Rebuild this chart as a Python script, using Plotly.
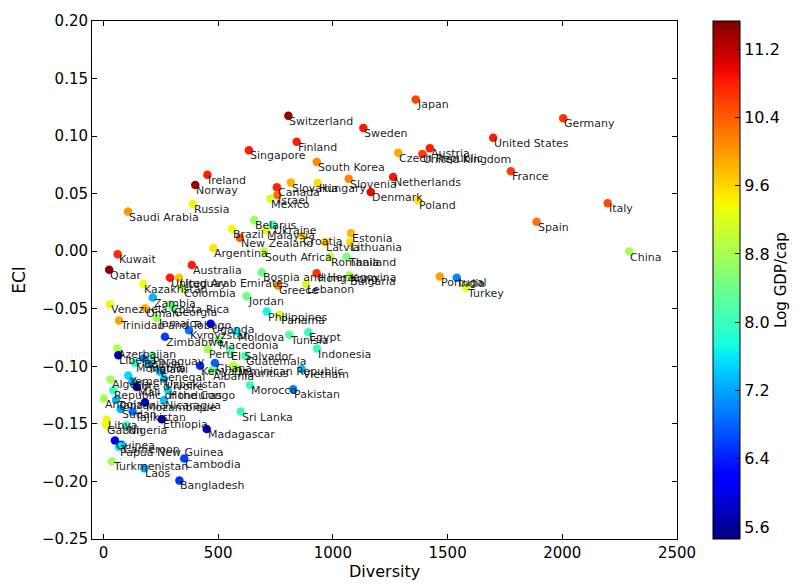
import numpy as np
import plotly.graph_objects as go

countries = [
    "Switzerland", "Finland", "Singapore", "South Korea", "Ireland", "Norway", "Canada", "Slovakia",
    "Hungary", "Israel", "Mexico", "Russia", "Saudi Arabia", "Belarus", "Ukraine", "Brazil",
    "Malaysia", "New Zealand", "Croatia", "Latvia", "Lithuania", "Estonia", "Argentina", "Kuwait",
    "Japan", "Sweden", "United States", "Austria", "Czech Republic", "United Kingdom", "France",
    "Slovenia", "Netherlands", "Denmark", "Poland", "Spain", "Germany", "Italy", "China",
    "Qatar", "Australia", "United Arab Emirates", "Uruguay", "Kazakhstan", "Colombia", "Zambia",
    "Venezuela", "Costa Rica", "Georgia", "Oman", "Trinidad and Tobago", "Jamaica", "Kyrgyzstan",
    "Uganda", "Zimbabwe", "Moldova", "Macedonia", "Jordan", "Bosnia and Herzegovina", "Greece",
    "Philippines", "Azerbaijan", "Peru", "South Africa", "Romania", "Thailand", "Hong Kong",
    "Bulgaria", "Lebanon", "Portugal", "India", "Turkey", "Panama", "Tunisia", "Egypt",
    "Indonesia", "El Salvador", "Guatemala", "Morocco", "Vietnam", "Pakistan", "Sri Lanka",
    "Madagascar", "Liberia", "Mongolia", "Bolivia", "Malawi", "Paraguay", "Senegal", "Uzbekistan",
    "Kenya", "Ghana", "Dominican Republic", "Mauritius", "Albania", "Algeria", "Yemen",
    "Cote d'Ivoire", "Mali", "Republic of the Congo", "Honduras", "Angola", "Tanzania",
    "Nicaragua", "Mozambique", "Sudan", "Tajikistan", "Ethiopia", "Libya", "Gabon", "Nigeria",
    "Guinea", "Cameroon", "Papua New Guinea", "Cambodia", "Turkmenistan", "Laos", "Bangladesh",
]

diversity = [
    806, 842, 634, 930, 453, 400, 756, 817,
    934, 758, 727, 389, 107, 657, 738, 560,
    708, 595, 865, 966, 1075, 1079, 479, 62,
    1361, 1133, 1699, 1423, 1285, 1390, 1776,
    1069, 1263, 1165, 1371, 1888, 2004, 2198, 2292,
    25, 385, 290, 329, 174, 345, 215,
    28, 290, 303, 181, 68, 232, 373,
    467, 268, 581, 501, 624, 690, 761,
    712, 60, 455, 701, 987, 1060, 929,
    1072, 883, 1466, 1540, 1580, 769, 810, 893,
    931, 552, 617, 639, 864, 827, 598,
    450, 65, 137, 174, 200, 212, 246, 264,
    421, 486, 566, 582, 473, 31, 108,
    127, 145, 43, 281, 2, 55,
    264, 181, 75, 127, 254, 14, 11, 101,
    50, 79, 68, 352, 36, 178, 331,
]

eci = [
    0.1177, 0.0951, 0.0878, 0.0775, 0.0664, 0.0575, 0.0556, 0.0596,
    0.0592, 0.0487, 0.0456, 0.0410, 0.0344, 0.0268, 0.0231, 0.0194,
    0.0182, 0.0117, 0.0131, 0.0079, 0.0079, 0.0156, 0.0026, -0.0026,
    0.1319, 0.1071, 0.0985, 0.0895, 0.0855, 0.0844, 0.0695,
    0.0630, 0.0644, 0.0515, 0.0442, 0.0256, 0.1156, 0.0416, -0.0003,
    -0.0160, -0.0120, -0.0231, -0.0231, -0.0282, -0.0319, -0.0402,
    -0.0462, -0.0462, -0.0487, -0.0496, -0.0601, -0.0581, -0.0686,
    -0.0630, -0.0744, -0.0698, -0.0772, -0.0391, -0.0182, -0.0297,
    -0.0524, -0.0846, -0.0852, -0.0003, -0.0049, -0.0049, -0.0191,
    -0.0211, -0.0282, -0.0220, -0.0231, -0.0316, -0.0553, -0.0726, -0.0703,
    -0.0846, -0.0866, -0.0909, -0.1165, -0.1023, -0.1199, -0.1393,
    -0.1544, -0.0903, -0.0972, -0.0932, -0.0980, -0.0906, -0.1045, -0.1108,
    -0.0994, -0.0972, -0.0994, -0.1017, -0.1037, -0.1114, -0.1080,
    -0.1131, -0.1179, -0.1208, -0.1205, -0.1280, -0.1293,
    -0.1293, -0.1314, -0.1370, -0.1393, -0.1459, -0.1464, -0.1507, -0.1513,
    -0.1644, -0.1678, -0.1701, -0.1801, -0.1826, -0.1886, -0.1991,
]

log_gdp_cap = [
    11.4, 10.8, 10.8, 10.1, 10.8, 11.4, 10.75, 9.85,
    9.55, 10.3, 9.15, 9.4, 10.0, 8.7, 8.1, 9.35,
    9.25, 10.45, 9.6, 9.6, 9.55, 9.8, 9.5, 10.7,
    10.55, 10.85, 10.8, 10.8, 9.9, 10.6, 10.6,
    10.15, 10.85, 10.95, 9.5, 10.25, 10.65, 10.5, 8.8,
    11.45, 10.8, 10.8, 9.7, 9.35, 8.9, 7.3,
    9.35, 8.6, 8.3, 9.8, 9.95, 8.7, 6.9,
    6.2, 6.6, 7.6, 8.5, 8.4, 8.4, 10.15,
    7.7, 8.85, 8.8, 9.0, 8.9, 8.5, 10.65,
    8.75, 9.15, 9.95, 7.0, 9.3, 9.15, 8.2, 8.0,
    8.0, 8.2, 8.1, 8.0, 7.4, 7.0, 8.0,
    5.8, 5.8, 7.9, 7.0, 7.4, 8.3, 7.3, 7.4,
    6.5, 6.8, 9.0, 8.9, 8.4, 8.8, 7.5,
    7.3, 5.9, 8.0, 7.5, 8.8, 7.3,
    7.4, 5.9, 7.3, 6.9, 5.8, 9.4, 9.3, 7.9,
    6.1, 7.4, 7.6, 6.6, 8.8, 7.2, 6.5,
]

x_ticks = [0, 500, 1000, 1500, 2000, 2500]
y_ticks = [-0.25, -0.20, -0.15, -0.10, -0.05, 0.00, 0.05, 0.10, 0.15, 0.20]
cbar_ticks = [5.6, 6.4, 7.2, 8.0, 8.8, 9.6, 10.4, 11.2]

# matplotlib "jet" colormap
def jet(t):
    r = np.interp(t, [0, 0.35, 0.66, 0.89, 1], [0, 0, 1, 1, 0.5])
    g = np.interp(t, [0, 0.125, 0.375, 0.64, 0.91, 1], [0, 0, 1, 1, 0, 0])
    b = np.interp(t, [0, 0.11, 0.34, 0.65, 1], [0.5, 1, 1, 0, 0])
    return "rgb(%d,%d,%d)" % (round(r * 255), round(g * 255), round(b * 255))

jet_scale = [[float(t), jet(t)] for t in np.linspace(0, 1, 65)]

FONT = "DejaVu Sans"

fig = go.Figure()
fig.add_trace(go.Scatter(
    x=diversity, y=eci, mode="markers",
    marker=dict(
        size=8.5, color=log_gdp_cap, colorscale=jet_scale, cmin=5.46, cmax=11.53,
        line=dict(width=0),
        colorbar=dict(
            x=1.0615, xanchor="left", xpad=0, ypad=0,
            y=0.5, yanchor="middle", len=1, lenmode="fraction",
            thickness=27, outlinecolor="black", outlinewidth=1,
            tickvals=cbar_ticks, ticktext=["%.1f" % v for v in cbar_ticks],
            ticks="inside", ticklen=5, tickcolor="black",
            tickfont=dict(family=FONT, size=16, color="black"),
            title=dict(text="Log GDP/cap", side="right",
                       font=dict(family=FONT, size=15, color="black")),
        ),
    ),
    showlegend=False, hoverinfo="skip",
))

annotations = []
for name, xv, yv in zip(countries, diversity, eci):
    annotations.append(dict(
        x=xv, y=yv, text=name, xref="x", yref="y",
        xanchor="left", yanchor="top", showarrow=False, borderpad=0, yshift=2,
        font=dict(family=FONT, size=11, color="rgba(0,0,0,0.9)"),
    ))

# x-axis title placed as a paper annotation
annotations.append(dict(
    x=0.5, y=-0.063, xref="paper", yref="paper", text="Diversity",
    xanchor="center", yanchor="middle", showarrow=False,
    font=dict(family=FONT, size=16, color="black"),
))

axis_common = dict(
    showline=True, linecolor="black", linewidth=1, mirror="ticks",
    ticks="inside", ticklen=5, tickcolor="black", showgrid=False, zeroline=False,
    tickfont=dict(family=FONT, size=15, color="black"),
)

fig.update_layout(
    width=803, height=584,
    margin=dict(l=92, r=126, t=13, b=45),
    paper_bgcolor="white", plot_bgcolor="white",
    annotations=annotations,
    xaxis=dict(range=[-50, 2500], tickvals=x_ticks, **axis_common),
    yaxis=dict(range=[-0.25, 0.20], tickvals=y_ticks, tickformat=".2f",
               title=dict(text="ECI", standoff=12, font=dict(family=FONT, size=17, color="black")),
               **axis_common),
)

# remove the browser's default body margin so the figure sits at the page origin
fig.write_html("out.html", config={"displayModeBar": False},
               post_script="document.body.style.margin='0px';")
